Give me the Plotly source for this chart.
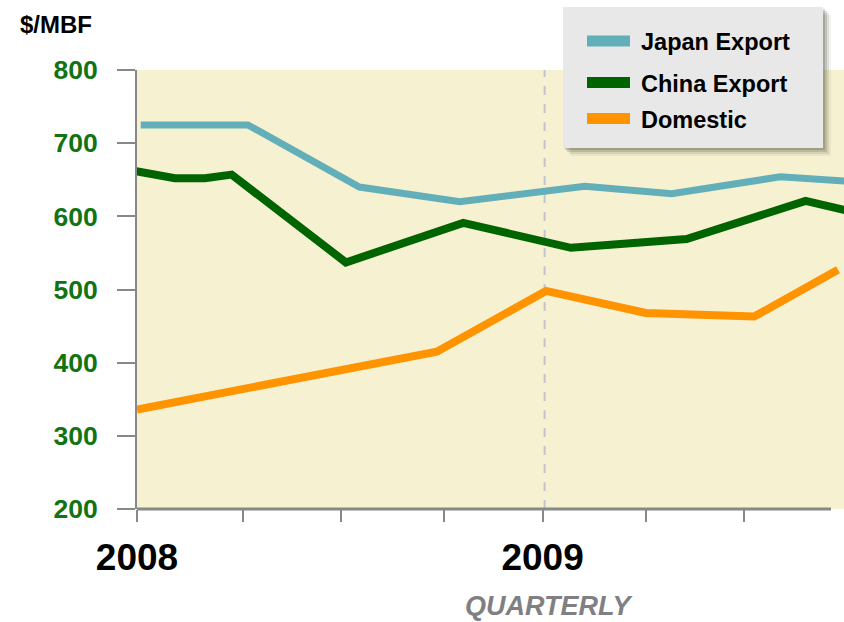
import plotly.graph_objects as go

# ---- data (x in months since Jan 2008) ----
series_names = ["Japan Export", "China Export", "Domestic"]
series_colors = ["#63afb9", "#006400", "#ff9300"]

japan_x = [0.11, 3.28, 6.58, 9.55, 13.25, 15.82, 19.03, 21.0]
japan_y = [725, 725, 640, 620, 641, 631, 654, 648]

china_x = [-0.06, 1.12, 2.01, 2.80, 6.18, 9.65, 12.84, 16.26, 19.78, 21.0]
china_y = [662, 652, 652, 657, 537, 591, 557, 569, 621, 608]

dom_x = [0.0, 8.87, 12.1, 15.05, 18.26, 20.74]
dom_y = [336, 415, 498, 468, 463, 527]

tick_vals = [0, 3.13, 6.04, 9.08, 12.0, 15.05, 17.95]
tick_text = ["2008", "", "", "", "2009", "", ""]
y_ticks = [200, 300, 400, 500, 600, 700, 800]
year_boundary = 12.06

W, H = 844, 622
L, R, T, B = 137, 0, 70, 113
PW, PH = W - L - R, H - T - B
PX_PER_MONTH = 33.8

FONT = "Liberation Sans, Arial, sans-serif"


def px(x):
    return (x - L) / PW


def py(y):
    return (H - B - y) / PH


fig = go.Figure()
widths = [7, 8, 8]
for name, xs, ys, col, w in zip(series_names, [japan_x, china_x, dom_x],
                                [japan_y, china_y, dom_y], series_colors, widths):
    fig.add_trace(go.Scatter(x=xs, y=ys, mode="lines", name=name,
                             line=dict(color=col, width=w), showlegend=False))

shapes = []
# dashed year boundary
shapes.append(dict(type="line", xref="x", yref="y", x0=year_boundary, x1=year_boundary,
                   y0=200, y1=800, line=dict(color="#c4c4cc", width=2, dash="dash"),
                   layer="below"))
# x axis line (ends before right edge)
shapes.append(dict(type="line", xref="paper", yref="paper", x0=px(137), x1=px(831),
                   y0=0, y1=0, line=dict(color="#888888", width=3), layer="above"))

# legend box with shadow
bx0, by0, bx1, by1 = 563, 7, 823, 148
for off, op in [(8, 0.07), (6, 0.12), (4, 0.18), (2, 0.22)]:
    shapes.append(dict(type="rect", xref="paper", yref="paper",
                       x0=px(bx0 + off), x1=px(bx1 + off), y0=py(by0 + off), y1=py(by1 + off),
                       fillcolor=f"rgba(70,70,50,{op})", line=dict(width=0), layer="above"))
shapes.append(dict(type="rect", xref="paper", yref="paper",
                   x0=px(bx0), x1=px(bx1), y0=py(by0), y1=py(by1),
                   fillcolor="#e8e8e8", line=dict(width=0), layer="above"))

annotations = []
centers = [41, 82.5, 118.5]
for name, col, cy in zip(series_names, series_colors, centers):
    shapes.append(dict(type="rect", xref="paper", yref="paper",
                       x0=px(587), x1=px(630), y0=py(cy - 5.5), y1=py(cy + 5.5),
                       fillcolor=col, line=dict(width=0), layer="above"))
    annotations.append(dict(xref="paper", yref="paper", x=px(639), y=py(cy + 1),
                            xanchor="left", yanchor="middle", showarrow=False, text=name,
                            font=dict(family=FONT, size=23.5, color="#000000", weight="bold")))

annotations.append(dict(xref="paper", yref="paper", x=px(18), y=py(24), xanchor="left",
                        yanchor="middle", showarrow=False, text="$/MBF",
                        font=dict(family=FONT, size=24, color="#000000", weight="bold")))
annotations.append(dict(xref="paper", yref="paper", x=px(549), y=py(606), xanchor="center",
                        yanchor="middle", showarrow=False, text="QUARTERLY",
                        font=dict(family=FONT, size=27, color="#808084", weight="bold",
                                  style="italic")))

fig.update_layout(
    width=W, height=H,
    margin=dict(l=L, r=R, t=T, b=B, pad=0),
    paper_bgcolor="#ffffff",
    plot_bgcolor="#f6f1d1",
    shapes=shapes,
    annotations=annotations,
    xaxis=dict(range=[0, PW / PX_PER_MONTH], tickmode="array", tickvals=tick_vals,
               ticktext=tick_text, ticks="outside", ticklen=12, tickwidth=2,
               tickcolor="#888888", showline=False, showgrid=False, zeroline=False,
               ticklabelstandoff=4,
               tickfont=dict(family=FONT, size=37, color="#000000", weight="bold")),
    yaxis=dict(range=[200, 800], tickmode="array", tickvals=y_ticks, ticks="outside",
               ticklen=18, tickwidth=2, tickcolor="#888888", showline=True,
               linecolor="#888888", linewidth=2, showgrid=False, zeroline=False,
               ticklabelstandoff=14,
               tickfont=dict(family=FONT, size=26.5, color="#127312", weight="bold")),
)

fig.write_html("out.html")
